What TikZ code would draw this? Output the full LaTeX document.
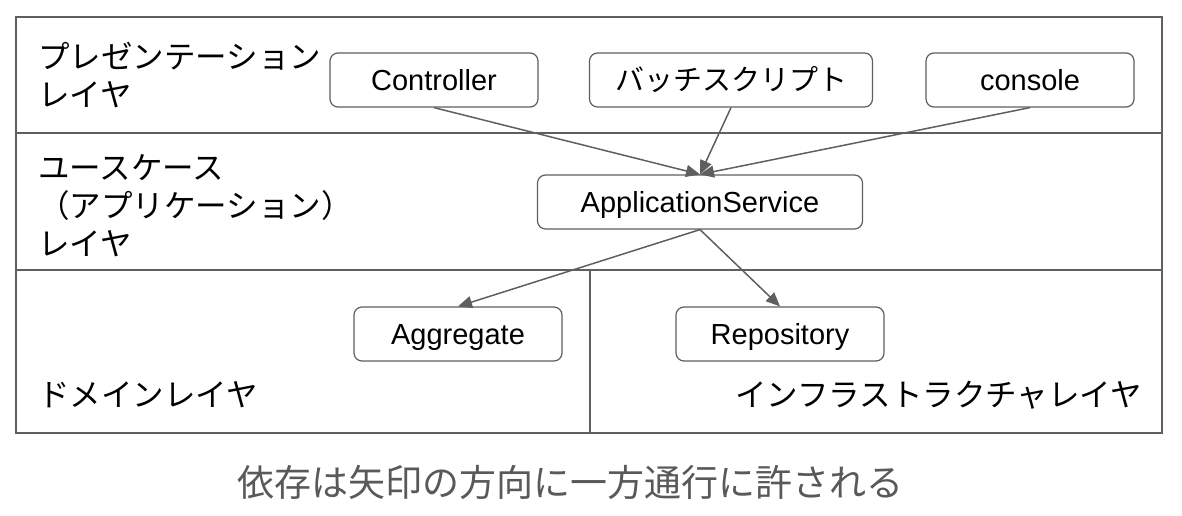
\documentclass[tikz,border=0pt]{standalone}
\usepackage{fontspec}
\setmainfont{Liberation Sans}
\newfontfamily\jpfont{Noto Sans CJK JP}
\usetikzlibrary{arrows.meta}

\definecolor{linegray}{HTML}{5F5F5F}
\definecolor{captiongray}{HTML}{595959}

\begin{document}
\begin{tikzpicture}[
    x=1pt, y=-1pt,
    layer/.style={draw=linegray, line width=1.5pt},
    component/.style={rectangle, draw=linegray, line width=1.2pt, fill=white, rounded corners=8pt,
                  minimum height=54pt, minimum width=208pt, inner sep=0pt,
                  text height=21pt, text depth=0pt,
                  font=\fontsize{29}{34}\selectfont, text centered},
    layername/.style={inner sep=0pt, align=left, font=\jpfont\fontsize{31.5}{38}\selectfont},
    depends/.style={-{Triangle[length=14pt, width=12pt]}, draw=linegray, line width=1.5pt}
]
\useasboundingbox (0,0) rectangle (1182,516);

% Layers
\draw[layer] (16,17) rectangle (1162,433);
\draw[layer] (16,133) -- (1162,133);
\draw[layer] (16,270) -- (1162,270);
\draw[layer] (590,270) -- (590,433);

\node[layername, anchor=north west] (presentation) at (38,41.5) {プレゼンテーション\\レイヤ};
\node[layername, anchor=north west] (usecase) at (38,154.5) {ユースケース\\（アプリケーション）\\レイヤ};
\node[layername, anchor=west] (domain) at (38,395) {ドメインレイヤ};
\node[layername, anchor=east] (infra) at (1142,395) {インフラストラクチャレイヤ};

% Components
\node[component] (controller) at (434,80) {Controller};
\node[component, minimum width=283pt] (batch) at (731,80) {\jpfont バッチスクリプト};
\node[component] (console) at (1030,80) {console};
\node[component, minimum width=325pt] (appservice) at (700,202) {ApplicationService};
\node[component] (aggregate) at (458,334) {Aggregate};
\node[component] (repository) at (780,334) {Repository};

% Dependencies
\draw[depends] (controller.south) -- (appservice.north);
\draw[depends] (batch.south) -- (appservice.north);
\draw[depends] (console.south) -- (appservice.north);
\draw[depends] (appservice.south) -- (aggregate.north);
\draw[depends] (appservice.south) -- (repository.north);

\node[font=\jpfont\fontsize{37}{44}\selectfont, text=captiongray] (caption) at (570,482) {依存は矢印の方向に一方通行に許される};

\end{tikzpicture}
\end{document}
